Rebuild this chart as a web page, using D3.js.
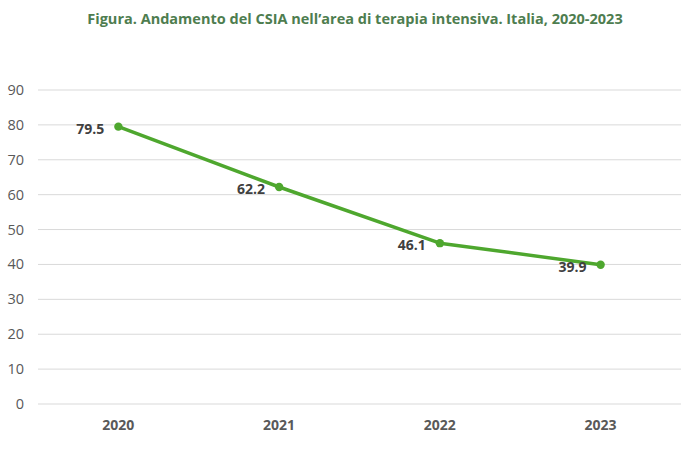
<!DOCTYPE html>
<html>
<head>
<meta charset="utf-8">
<script src="https://cdn.jsdelivr.net/npm/d3@7"></script>
<style>
  body { margin: 0; background: #fff; }
  svg { font-family: "Open Sans", "Noto Sans", sans-serif; }
</style>
</head>
<body>
<div id="container"></div>
<script>
// data
var years = ["2020", "2021", "2022", "2023"];
var values = [79.5, 62.2, 46.1, 39.9];
var yTicks = [0, 10, 20, 30, 40, 50, 60, 70, 80, 90];

var W = 699, H = 453;
var svg = d3.select("#container").append("svg")
  .attr("width", W).attr("height", H);

svg.append("text")
  .attr("x", 355).attr("y", 24)
  .attr("text-anchor", "middle")
  .attr("fill", "#4e7d4f")
  .attr("font-weight", "bold")
  .attr("font-size", 14.5)
  .text("Figura. Andamento del CSIA nell\u2019area di terapia intensiva. Italia, 2020-2023");

var x = d3.scaleBand().domain(years).range([38, 681]);
var y = d3.scaleLinear().domain([0, 90]).range([404, 90]);

// gridlines
svg.append("g").selectAll("line").data(yTicks).enter().append("line")
  .attr("x1", 38).attr("x2", 681)
  .attr("y1", function (d) { return y(d); })
  .attr("y2", function (d) { return y(d); })
  .attr("stroke", "#d9d9d9").attr("stroke-width", 1);

// y labels
svg.append("g").selectAll("text").data(yTicks).enter().append("text")
  .attr("x", 24).attr("y", function (d) { return y(d) + 5; })
  .attr("text-anchor", "end")
  .attr("fill", "#595959").attr("font-size", 14.5)
  .text(function (d) { return d; });

// x labels
svg.append("g").selectAll("text").data(years).enter().append("text")
  .attr("x", function (d) { return x(d) + x.bandwidth() / 2; })
  .attr("y", 430)
  .attr("text-anchor", "middle")
  .attr("fill", "#595959").attr("font-weight", "bold").attr("font-size", 14)
  .text(function (d) { return d; });

var cx = function (d, i) { return x(years[i]) + x.bandwidth() / 2; };

var line = d3.line()
  .x(function (d, i) { return cx(d, i); })
  .y(function (d) { return y(d); });

svg.append("path").datum(values)
  .attr("d", line)
  .attr("fill", "none")
  .attr("stroke", "#4ea72e")
  .attr("stroke-width", 3.5)
  .attr("stroke-linejoin", "round");

svg.append("g").selectAll("circle").data(values).enter().append("circle")
  .attr("cx", cx)
  .attr("cy", function (d) { return y(d); })
  .attr("r", 4.2)
  .attr("fill", "#4ea72e");

svg.append("g").selectAll("text").data(values).enter().append("text")
  .attr("x", function (d, i) { return cx(d, i) - 14; })
  .attr("y", function (d) { return y(d) + 7; })
  .attr("text-anchor", "end")
  .attr("fill", "#404040").attr("font-weight", "bold").attr("font-size", 14)
  .text(function (d) { return d.toFixed(1); });
</script>
</body>
</html>
